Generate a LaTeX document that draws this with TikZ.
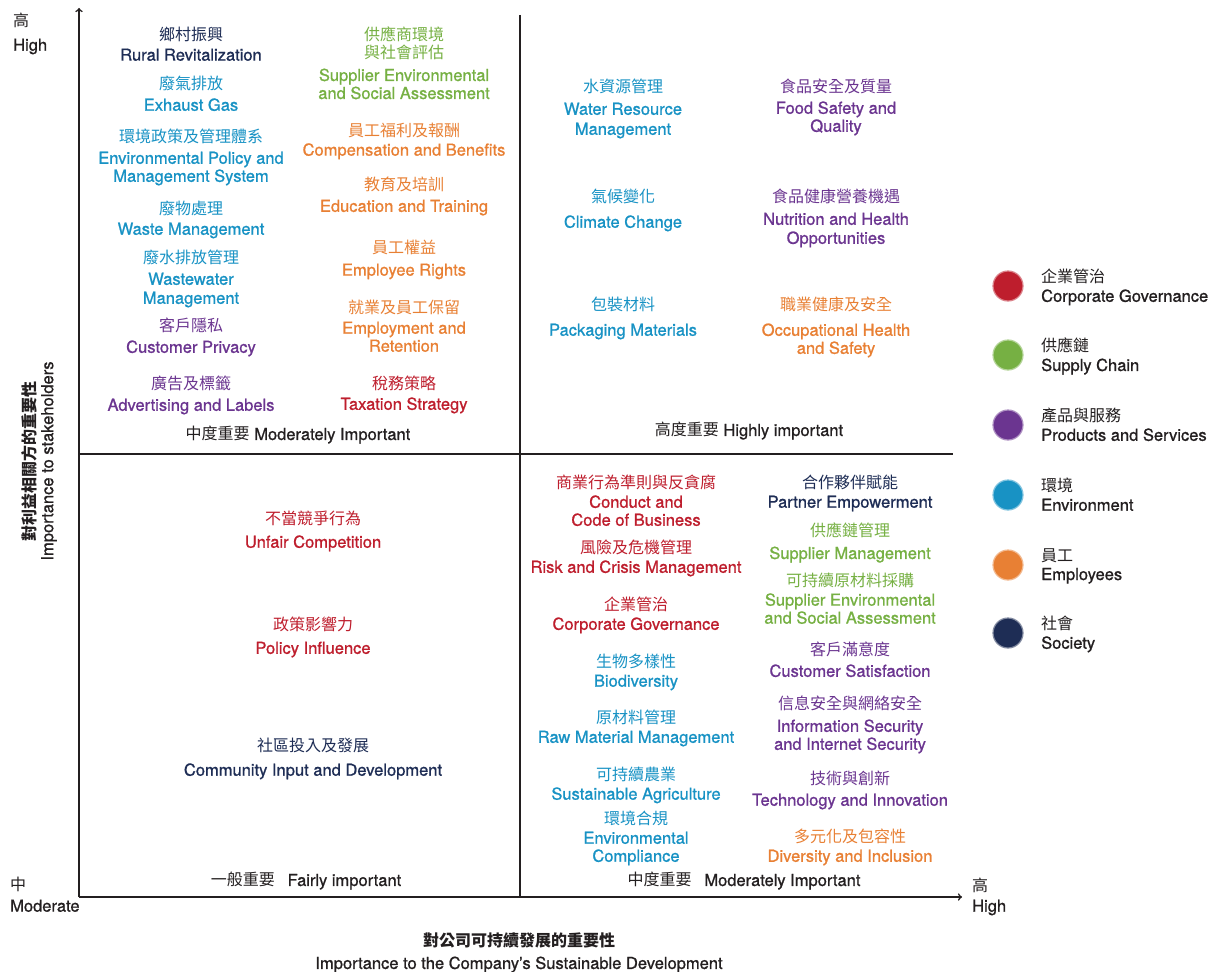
\documentclass[tikz,border=0pt]{standalone}
\usepackage{fontspec}
\setmainfont{TeX Gyre Heros}[FakeBold=1]
\newfontfamily\cjk{Noto Sans CJK TC}
\usetikzlibrary{positioning}

\definecolor{govred}{RGB}{190,30,45}
\definecolor{supgreen}{RGB}{118,176,67}
\definecolor{prodpurple}{RGB}{107,53,144}
\definecolor{envblue}{RGB}{24,146,196}
\definecolor{emporange}{RGB}{232,128,52}
\definecolor{socnavy}{RGB}{30,45,85}
\definecolor{inkgray}{RGB}{35,31,32}

\newcommand\zhtext[1]{{\cjk\fontsize{16}{18}\selectfont #1}}

\tikzset{
  issue/.style={anchor=north, align=center, inner sep=0pt, font=\fontsize{16.5}{18}\selectfont},
  gov/.style={issue, text=govred},
  sup/.style={issue, text=supgreen},
  prod/.style={issue, text=prodpurple},
  env/.style={issue, text=envblue},
  emp/.style={issue, text=emporange},
  soc/.style={issue, text=socnavy},
  axisline/.style={draw=inkgray, line width=1.6pt},
  plain/.style={inner sep=0pt, text=inkgray, font=\fontsize{16.5}{18}\selectfont},
}

\begin{document}
\begin{tikzpicture}[x=1pt, y=-1pt]
    \useasboundingbox (0,0) rectangle (1217,971);

    % Axes and quadrant lines
    \coordinate (origin) at (79,897);
    \coordinate (ytop) at (79,8);
    \coordinate (xend) at (962,897);
    \coordinate (midtop) at (520,15);
    \coordinate (midbot) at (520,897);
    \coordinate (midleft) at (79,454);
    \coordinate (midright) at (953,454);
    \draw[axisline,->] (origin) -- (ytop);
    \draw[axisline,->] (origin) -- (xend);
    \draw[axisline] (midtop) -- (midbot);
    \draw[axisline] (midleft) -- (midright);

    % Axis ends
    \node[plain, anchor=north west, align=left] (yhigh) at (13,13) {\zhtext{高}\\[6pt]High};
    \node[plain, anchor=north west, align=left] (ymod) at (10,877) {\zhtext{中}\\[3pt]Moderate};
    \node[plain, anchor=north west, align=left] (xhigh) at (972,878) {\zhtext{高}\\[2pt]High};

    % Axis titles
    \node[plain, rotate=90, align=center] (ytitle) at (39,461) {\zhtext{\bfseries 對利益相關方的重要性}\\Importance to stakeholders};
    \node[plain, anchor=north, align=center] (xtitle) at (519,933) {\zhtext{\bfseries 對公司可持續發展的重要性}\\[4pt]Importance to the Company’s Sustainable Development};

    % Quadrant labels
    \node[plain] (q1) at (298,435) {\zhtext{中度重要} Moderately Important};
    \node[plain] (q2) at (749,431) {\zhtext{高度重要} Highly important};
    \node[plain] (q3) at (306,881) {\zhtext{一般重要}\hspace{0.5em} Fairly important};
    \node[plain] (q4) at (744,881) {\zhtext{中度重要}\hspace{0.5em} Moderately Important};

    % Upper left, first column
    \node[soc] (rural) at (191,27) {\zhtext{鄉村振興}\\[2pt]Rural Revitalization};
    \node[env] (exhaust) at (191,76) {\zhtext{廢氣排放}\\[3pt]Exhaust Gas};
    \node[env] (envpolicy) at (191,129) {\zhtext{環境政策及管理體系}\\[3pt]Environmental Policy and\\Management System};
    \node[env] (waste) at (191,201) {\zhtext{廢物處理}\\[2pt]Waste Management};
    \node[env] (wastewater) at (191,250) {\zhtext{廢水排放管理}\\[3pt]Wastewater\\[1pt]Management};
    \node[prod] (privacy) at (191,318) {\zhtext{客戶隱私}\\[3pt]Customer Privacy};
    \node[prod] (advert) at (191,376) {\zhtext{廣告及標籤}\\[3pt]Advertising and Labels};

    % Upper left, second column
    \node[sup] (supplierenv) at (404,27) {\zhtext{供應商環境}\\\zhtext{與社會評估}\\[4pt]Supplier Environmental\\and Social Assessment};
    \node[emp] (compensation) at (404,123) {\zhtext{員工福利及報酬}\\[1pt]Compensation and Benefits};
    \node[emp] (education) at (404,177) {\zhtext{教育及培訓}\\[3pt]Education and Training};
    \node[emp] (rights) at (404,240) {\zhtext{員工權益}\\[4pt]Employee Rights};
    \node[emp] (employment) at (404,300) {\zhtext{就業及員工保留}\\[2pt]Employment and\\Retention};
    \node[gov] (taxation) at (404,376) {\zhtext{稅務策略}\\[2pt]Taxation Strategy};

    % Upper right
    \node[env] (water) at (623,79) {\zhtext{水資源管理}\\[4pt]Water Resource\\[2pt]Management};
    \node[env] (climate) at (623,189) {\zhtext{氣候變化}\\[7pt]Climate Change};
    \node[env] (packaging) at (623,297) {\zhtext{包裝材料}\\[7pt]Packaging Materials};
    \node[prod] (food) at (836,79) {\zhtext{食品安全及質量}\\[3pt]Food Safety and\\Quality};
    \node[prod] (nutrition) at (836,189) {\zhtext{食品健康營養機遇}\\[4pt]Nutrition and Health\\[1pt]Opportunities};
    \node[emp] (occupational) at (836,297) {\zhtext{職業健康及安全}\\[7pt]Occupational Health\\and Safety};

    % Lower left
    \node[gov] (unfair) at (313,511) {\zhtext{不當競爭行為}\\[5pt]Unfair Competition};
    \node[gov] (policy) at (313,617) {\zhtext{政策影響力}\\[5pt]Policy Influence};
    \node[soc] (community) at (313,738) {\zhtext{社區投入及發展}\\[6pt]Community Input and Development};

    % Lower right, first column
    \node[gov] (conduct) at (636,475) {\zhtext{商業行為準則與反貪腐}\\[1pt]Conduct and\\Code of Business};
    \node[gov] (risk) at (636,540) {\zhtext{風險及危機管理}\\[1pt]Risk and Crisis Management};
    \node[gov] (corpgov) at (636,597) {\zhtext{企業管治}\\[1pt]Corporate Governance};
    \node[env] (biodiv) at (636,654) {\zhtext{生物多樣性}\\[1pt]Biodiversity};
    \node[env] (rawmat) at (636,710) {\zhtext{原材料管理}\\[1pt]Raw Material Management};
    \node[env] (sustagri) at (636,767) {\zhtext{可持續農業}\\[1pt]Sustainable Agriculture};
    \node[env] (envcomp) at (636,811) {\zhtext{環境合規}\\[1pt]Environmental\\Compliance};

    % Lower right, second column
    \node[soc] (partner) at (850,475) {\zhtext{合作夥伴賦能}\\[1pt]Partner Empowerment};
    \node[sup] (supmgmt) at (850,523) {\zhtext{供應鏈管理}\\[4pt]Supplier Management};
    \node[sup] (sustraw) at (850,573) {\zhtext{可持續原材料採購}\\[1pt]Supplier Environmental\\and Social Assessment};
    \node[prod] (custsat) at (850,642) {\zhtext{客戶滿意度}\\[3pt]Customer Satisfaction};
    \node[prod] (infosec) at (850,696) {\zhtext{信息安全與網絡安全}\\[4pt]Information Security\\and Internet Security};
    \node[prod] (tech) at (850,771) {\zhtext{技術與創新}\\[3pt]Technology and Innovation};
    \node[emp] (diversity) at (850,829) {\zhtext{多元化及包容性}\\[1pt]Diversity and Inclusion};

    % Legend
    \foreach \y/\c/\zh/\en [count=\i] in {286/govred/企業管治/Corporate Governance,
        355/supgreen/供應鏈/Supply Chain,
        425/prodpurple/產品與服務/Products and Services,
        495/envblue/環境/Environment,
        565/emporange/員工/Employees,
        633/socnavy/社會/Society} {
      \node[circle, fill=\c, draw=\c!55!white, line width=1.2pt, minimum size=30pt, inner sep=0pt] (dot\i) at (1008,\y) {};
      \node[plain, anchor=north west, align=left] (key\i) at (1041,\y-17) {\zhtext{\zh}\\[1pt]\en};
    }
\end{tikzpicture}
\end{document}
